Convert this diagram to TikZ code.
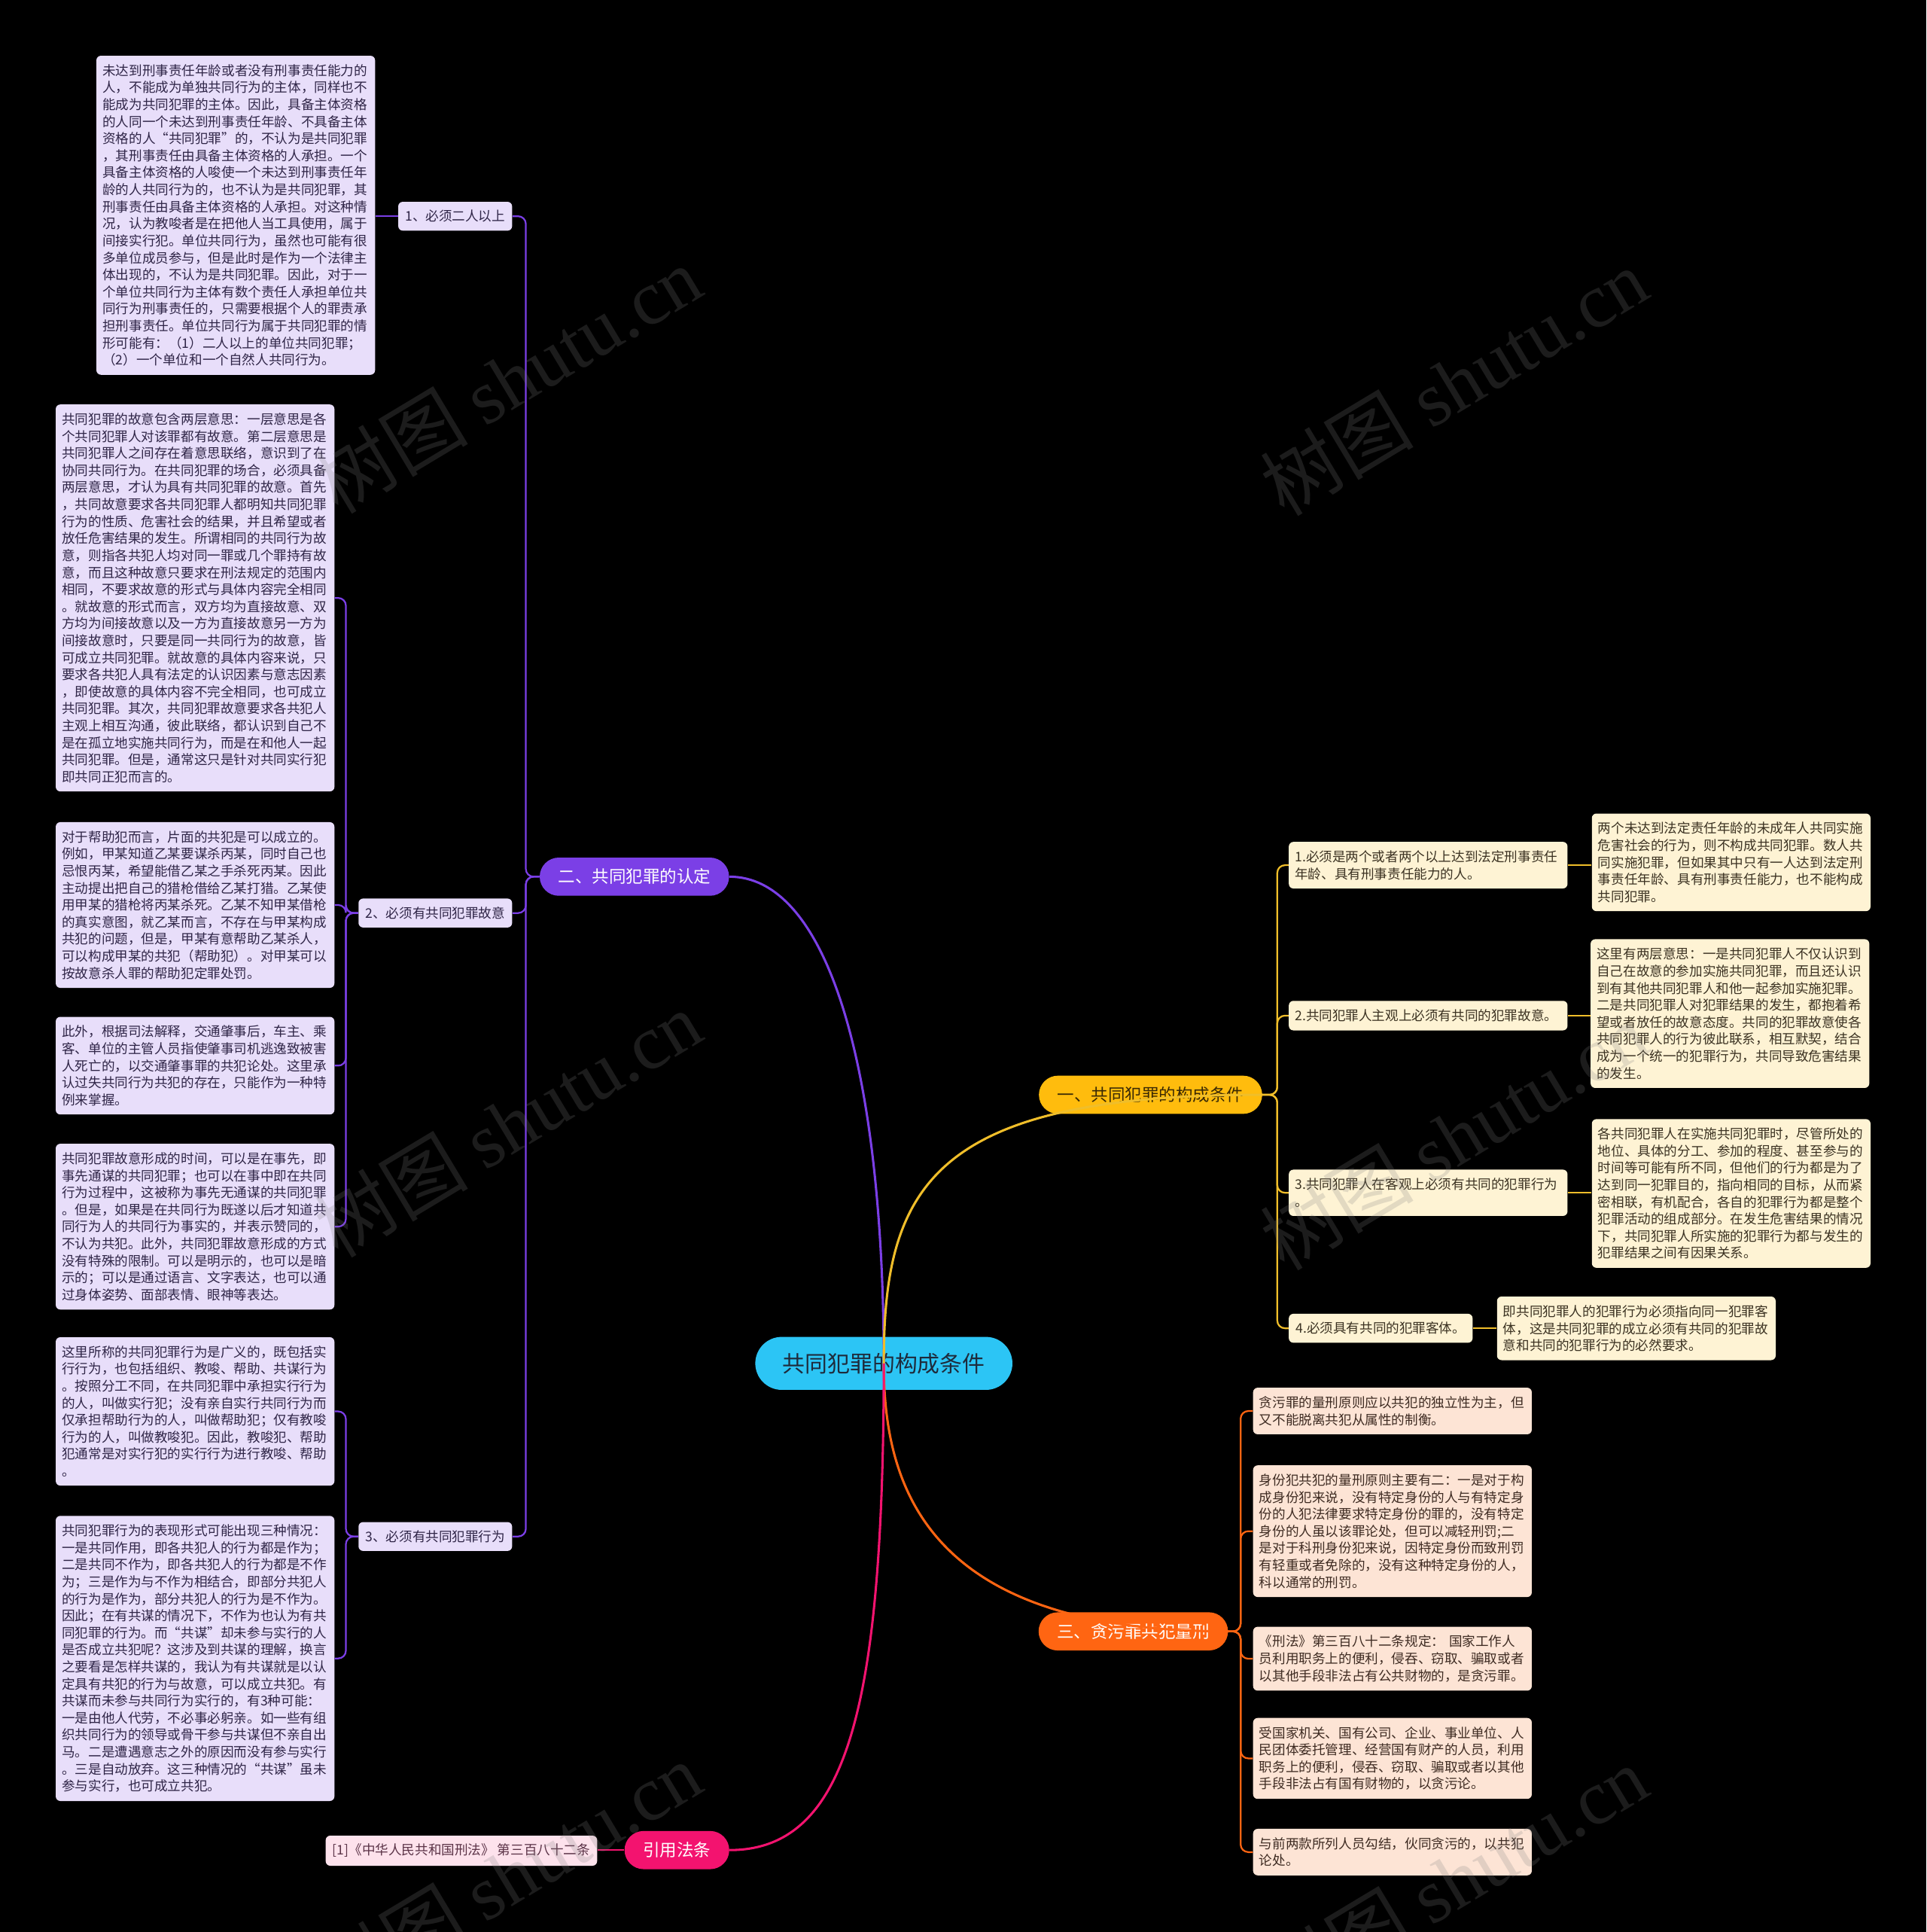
\documentclass[tikz,border=0pt]{standalone}
\usepackage{fontspec}
\newfontfamily\cjk{Noto Sans CJK SC}
\newfontfamily\wmserif{Liberation Serif}
\definecolor{rootcyan}{HTML}{2CC5F5}
\definecolor{rootink}{HTML}{1E2B3C}
\definecolor{violetbr}{HTML}{7B3FE6}
\definecolor{lavleaf}{HTML}{E8DEFA}
\definecolor{lavtext}{HTML}{2F2547}
\definecolor{ambbr}{HTML}{FFBC0D}
\definecolor{ambline}{HTML}{F0BE2A}
\definecolor{ambink}{HTML}{3A2A05}
\definecolor{creamleaf}{HTML}{FEF3D4}
\definecolor{creamtext}{HTML}{3B3222}
\definecolor{orgbr}{HTML}{FF6512}
\definecolor{peachleaf}{HTML}{FDE4D5}
\definecolor{peachtext}{HTML}{3E2B22}
\definecolor{pinkbr}{HTML}{F3136F}
\definecolor{pinkleaf}{HTML}{FDE2EC}
\definecolor{pinktext}{HTML}{5B3347}
\definecolor{wmgray}{HTML}{808080}
\tikzset{
  rootpill/.style={fill=rootcyan, text=rootink, rounded corners=17.2pt, minimum width=167pt, minimum height=34.4pt, inner sep=0pt, font=\cjk\fontsize{14.6pt}{16pt}\selectfont},
  brpill/.style={rounded corners=12.4pt, minimum height=24.8pt, inner xsep=12pt, inner ysep=0pt, font=\cjk\fontsize{11pt}{13pt}\selectfont},
  leafbox/.style={rounded corners=3pt, inner xsep=4pt, inner ysep=5.6pt, text width=173pt, align=left, anchor=north west, font=\cjk\fontsize{8.6pt}{11.05pt}\selectfont},
  tagbox/.style={rounded corners=3pt, inner xsep=4.5pt, inner ysep=5.4pt, font=\cjk\fontsize{8.6pt}{11.05pt}\selectfont},
  violetleaf/.style={fill=lavleaf, text=lavtext},
  amberleaf/.style={fill=creamleaf, text=creamtext},
  peachbox/.style={fill=peachleaf, text=peachtext},
  link/.style={line width=1.5pt},
  bracket/.style={line width=1.1pt, rounded corners=5pt},
  wmark/.style={text=wmgray, opacity=0.22, rotate=31, font=\cjk\fontsize{50pt}{50pt}\selectfont}
}
\begin{document}
\begin{tikzpicture}[x=0.8pt,y=0.8pt,yscale=-1]
\fill[black] (0,0) rectangle (1564,1568);
\useasboundingbox (0,0) rectangle (1564,1568);

% Text Node
\node[rootpill] (root) at (717.5,1106.5) {共同犯罪的构成条件};

% Text Node
\node[brpill, fill=violetbr, text=white] (b2) at (515,711.5) {二、共同犯罪的认定};
% Text Node
\node[brpill, fill=ambbr, text=ambink] (b1) at (934,888.5) {一、共同犯罪的构成条件};
% Text Node
\node[brpill, fill=orgbr, text=white] (b3) at (920,1324) {三、贪污罪共犯量刑};
% Text Node
\node[brpill, fill=pinkbr, text=white] (b4) at (549.5,1501.5) {引用法条};

%Curve Lines
\draw[link, violetbr] (root.center) .. controls (717,860) and (670,711.5) .. (b2.east);
%Curve Lines
\draw[link, ambline] (root.center) .. controls (717,960) and (760,888.5) .. (b1.east);
%Curve Lines
\draw[link, orgbr] (root.center) .. controls (717,1220) and (765,1324) .. (b3.east);
%Curve Lines
\draw[link, pinkbr] (root.center) .. controls (717,1380) and (690,1501.5) .. (b4.east);

% Text Node
\node[tagbox, violetleaf, anchor=east] (n21) at (416,175.5) {1、必须二人以上};
% Text Node
\node[tagbox, violetleaf, anchor=east] (n22) at (416,741) {2、必须有共同犯罪故意};
% Text Node
\node[tagbox, violetleaf, anchor=east] (n23) at (416,1247) {3、必须有共同犯罪行为};

% Text Node
\node[leafbox, violetleaf] (a1) at (78,45) {未达到刑事责任年龄或者没有刑事责任能力的\\人，不能成为单独共同行为的主体，同样也不\\能成为共同犯罪的主体。因此，具备主体资格\\的人同一个未达到刑事责任年龄、不具备主体\\资格的人“共同犯罪”的，不认为是共同犯罪\\，其刑事责任由具备主体资格的人承担。一个\\具备主体资格的人唆使一个未达到刑事责任年\\龄的人共同行为的，也不认为是共同犯罪，其\\刑事责任由具备主体资格的人承担。对这种情\\况，认为教唆者是在把他人当工具使用，属于\\间接实行犯。单位共同行为，虽然也可能有很\\多单位成员参与，但是此时是作为一个法律主\\体出现的，不认为是共同犯罪。因此，对于一\\个单位共同行为主体有数个责任人承担单位共\\同行为刑事责任的，只需要根据个人的罪责承\\担刑事责任。单位共同行为属于共同犯罪的情\\形可能有：（1）二人以上的单位共同犯罪；\\（2）一个单位和一个自然人共同行为。};
% Text Node
\node[leafbox, violetleaf] (b21) at (45,328) {共同犯罪的故意包含两层意思：一层意思是各\\个共同犯罪人对该罪都有故意。第二层意思是\\共同犯罪人之间存在着意思联络，意识到了在\\协同共同行为。在共同犯罪的场合，必须具备\\两层意思，才认为具有共同犯罪的故意。首先\\，共同故意要求各共同犯罪人都明知共同犯罪\\行为的性质、危害社会的结果，并且希望或者\\放任危害结果的发生。所谓相同的共同行为故\\意，则指各共犯人均对同一罪或几个罪持有故\\意，而且这种故意只要求在刑法规定的范围内\\相同，不要求故意的形式与具体内容完全相同\\。就故意的形式而言，双方均为直接故意、双\\方均为间接故意以及一方为直接故意另一方为\\间接故意时，只要是同一共同行为的故意，皆\\可成立共同犯罪。就故意的具体内容来说，只\\要求各共犯人具有法定的认识因素与意志因素\\，即使故意的具体内容不完全相同，也可成立\\共同犯罪。其次，共同犯罪故意要求各共犯人\\主观上相互沟通，彼此联络，都认识到自己不\\是在孤立地实施共同行为，而是在和他人一起\\共同犯罪。但是，通常这只是针对共同实行犯\\即共同正犯而言的。};
% Text Node
\node[leafbox, violetleaf] (b22) at (45,667) {对于帮助犯而言，片面的共犯是可以成立的。\\例如，甲某知道乙某要谋杀丙某，同时自己也\\忌恨丙某，希望能借乙某之手杀死丙某。因此\\主动提出把自己的猎枪借给乙某打猎。乙某使\\用甲某的猎枪将丙某杀死。乙某不知甲某借枪\\的真实意图，就乙某而言，不存在与甲某构成\\共犯的问题，但是，甲某有意帮助乙某杀人，\\可以构成甲某的共犯（帮助犯）。对甲某可以\\按故意杀人罪的帮助犯定罪处罚。};
% Text Node
\node[leafbox, violetleaf] (b23) at (45,825) {此外，根据司法解释，交通肇事后，车主、乘\\客、单位的主管人员指使肇事司机逃逸致被害\\人死亡的，以交通肇事罪的共犯论处。这里承\\认过失共同行为共犯的存在，只能作为一种特\\例来掌握。};
% Text Node
\node[leafbox, violetleaf] (b24) at (45,928) {共同犯罪故意形成的时间，可以是在事先，即\\事先通谋的共同犯罪；也可以在事中即在共同\\行为过程中，这被称为事先无通谋的共同犯罪\\。但是，如果是在共同行为既遂以后才知道共\\同行为人的共同行为事实的，并表示赞同的，\\不认为共犯。此外，共同犯罪故意形成的方式\\没有特殊的限制。可以是明示的，也可以是暗\\示的；可以是通过语言、文字表达，也可以通\\过身体姿势、面部表情、眼神等表达。};
% Text Node
\node[leafbox, violetleaf] (c31) at (45,1085) {这里所称的共同犯罪行为是广义的，既包括实\\行行为，也包括组织、教唆、帮助、共谋行为\\。按照分工不同，在共同犯罪中承担实行行为\\的人，叫做实行犯；没有亲自实行共同行为而\\仅承担帮助行为的人，叫做帮助犯；仅有教唆\\行为的人，叫做教唆犯。因此，教唆犯、帮助\\犯通常是对实行犯的实行行为进行教唆、帮助\\。};
% Text Node
\node[leafbox, violetleaf] (c32) at (45,1230) {共同犯罪行为的表现形式可能出现三种情况：\\一是共同作用，即各共犯人的行为都是作为；\\二是共同不作为，即各共犯人的行为都是不作\\为；三是作为与不作为相结合，即部分共犯人\\的行为是作为，部分共犯人的行为是不作为。\\因此；在有共谋的情况下，不作为也认为有共\\同犯罪的行为。而“共谋”却未参与实行的人\\是否成立共犯呢？这涉及到共谋的理解，换言\\之要看是怎样共谋的，我认为有共谋就是以认\\定具有共犯的行为与故意，可以成立共犯。有\\共谋而未参与共同行为实行的，有3种可能：\\一是由他人代劳，不必事必躬亲。如一些有组\\织共同行为的领导或骨干参与共谋但不亲自出\\马。二是遭遇意志之外的原因而没有参与实行\\。三是自动放弃。这三种情况的“共谋”虽未\\参与实行，也可成立共犯。};

%Straight Lines
\draw[bracket, violetbr] (b2.west) -- ++(-11,0) |- (n21.east);
\draw[bracket, violetbr] (b2.west) -- ++(-11,0) |- (n22.east);
\draw[bracket, violetbr] (b2.west) -- ++(-11,0) |- (n23.east);
\draw[bracket, violetbr] (n21.west) -- (n21.west -| a1.east);
\foreach \leaf in {b21,b22,b23,b24}
  \draw[bracket, violetbr] (n22.west) -- ++(-10,0) |- (\leaf.east);
\foreach \leaf in {c31,c32}
  \draw[bracket, violetbr] (n23.west) -- ++(-10,0) |- (\leaf.east);

% Text Node
\node[leafbox, amberleaf] (y1) at (1046,683) {1.必须是两个或者两个以上达到法定刑事责任\\年龄、具有刑事责任能力的人。};
% Text Node
\node[leafbox, amberleaf] (y2) at (1046,812) {2.共同犯罪人主观上必须有共同的犯罪故意。};
% Text Node
\node[leafbox, amberleaf] (y3) at (1046,949) {3.共同犯罪人在客观上必须有共同的犯罪行为\\。};
% Text Node
\node[tagbox, amberleaf, anchor=north west] (y4) at (1046,1066) {4.必须具有共同的犯罪客体。};

% Text Node
\node[leafbox, amberleaf] (y1l) at (1292,660) {两个未达到法定责任年龄的未成年人共同实施\\危害社会的行为，则不构成共同犯罪。数人共\\同实施犯罪，但如果其中只有一人达到法定刑\\事责任年龄、具有刑事责任能力，也不能构成\\共同犯罪。};
% Text Node
\node[leafbox, amberleaf] (y2l) at (1291,762) {这里有两层意思：一是共同犯罪人不仅认识到\\自己在故意的参加实施共同犯罪，而且还认识\\到有其他共同犯罪人和他一起参加实施犯罪。\\二是共同犯罪人对犯罪结果的发生，都抱着希\\望或者放任的故意态度。共同的犯罪故意使各\\共同犯罪人的行为彼此联系，相互默契，结合\\成为一个统一的犯罪行为，共同导致危害结果\\的发生。};
% Text Node
\node[leafbox, amberleaf] (y3l) at (1292,908) {各共同犯罪人在实施共同犯罪时，尽管所处的\\地位、具体的分工、参加的程度、甚至参与的\\时间等可能有所不同，但他们的行为都是为了\\达到同一犯罪目的，指向相同的目标，从而紧\\密相联，有机配合，各自的犯罪行为都是整个\\犯罪活动的组成部分。在发生危害结果的情况\\下，共同犯罪人所实施的犯罪行为都与发生的\\犯罪结果之间有因果关系。};
% Text Node
\node[leafbox, amberleaf] (y4l) at (1215,1052) {即共同犯罪人的犯罪行为必须指向同一犯罪客\\体，这是共同犯罪的成立必须有共同的犯罪故\\意和共同的犯罪行为的必然要求。};

%Straight Lines
\foreach \mid in {y1,y2,y3,y4}
  \draw[bracket, ambline] (b1.east) -- ++(12,0) |- (\mid.west);
\foreach \mid in {y1,y2,y3,y4}
  \draw[bracket, ambline] (\mid.east) -- (\mid.east -| \mid l.west);

% Text Node
\node[leafbox, peachbox] (o1) at (1017,1126) {贪污罪的量刑原则应以共犯的独立性为主，但\\又不能脱离共犯从属性的制衡。};
% Text Node
\node[leafbox, peachbox] (o2) at (1017,1189) {身份犯共犯的量刑原则主要有二：一是对于构\\成身份犯来说，没有特定身份的人与有特定身\\份的人犯法律要求特定身份的罪的，没有特定\\身份的人虽以该罪论处，但可以减轻刑罚;二\\是对于科刑身份犯来说，因特定身份而致刑罚\\有轻重或者免除的，没有这种特定身份的人，\\科以通常的刑罚。};
% Text Node
\node[leafbox, peachbox] (o3) at (1017,1320) {《刑法》第三百八十二条规定： 国家工作人\\员利用职务上的便利，侵吞、窃取、骗取或者\\以其他手段非法占有公共财物的，是贪污罪。};
% Text Node
\node[leafbox, peachbox] (o4) at (1017,1394) {受国家机关、国有公司、企业、事业单位、人\\民团体委托管理、经营国有财产的人员，利用\\职务上的便利，侵吞、窃取、骗取或者以其他\\手段非法占有国有财物的，以贪污论。};
% Text Node
\node[leafbox, peachbox] (o5) at (1017,1484) {与前两款所列人员勾结，伙同贪污的，以共犯\\论处。};

%Straight Lines
\foreach \leaf in {o1,o2,o3,o4,o5}
  \draw[bracket, orgbr] (b3.east) -- ++(10,0) |- (\leaf.west);

% Text Node
\node[tagbox, fill=pinkleaf, text=pinktext, anchor=east] (ref1) at (485,1502) {[1]《中华人民共和国刑法》 第三百八十二条};
%Straight Lines
\draw[bracket, pinkbr] (b4.west) -- (b4.west -| ref1.east);

% Watermarks
\node[wmark] (wm1) at (412,308) {树图 {\wmserif shutu.cn}};
\node[wmark] (wm2) at (1180,310) {树图 {\wmserif shutu.cn}};
\node[wmark] (wm3) at (412,912) {树图 {\wmserif shutu.cn}};
\node[wmark] (wm4) at (1180,922) {树图 {\wmserif shutu.cn}};
\node[wmark] (wm5) at (412,1522) {树图 {\wmserif shutu.cn}};
\node[wmark] (wm6) at (1180,1525) {树图 {\wmserif shutu.cn}};

\end{tikzpicture}
\end{document}
